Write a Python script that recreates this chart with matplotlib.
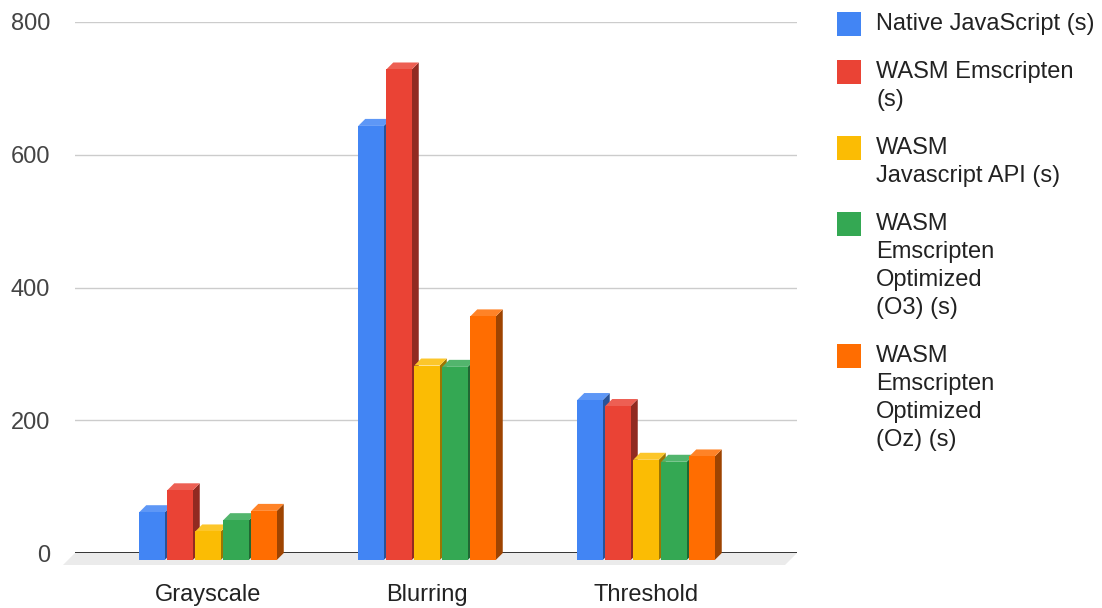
import matplotlib.pyplot as plt
import matplotlib.colors as mcolors
from matplotlib.patches import Polygon, Rectangle

# =========================
# DATA (seconds)
# =========================
categories = ["Grayscale", "Blurring", "Threshold"]
series_labels = [
    "Native JavaScript (s)",
    "WASM Emscripten\n(s)",
    "WASM\nJavascript API (s)",
    "WASM\nEmscripten\nOptimized\n(O3) (s)",
    "WASM\nEmscripten\nOptimized\n(Oz) (s)",
]
native_js = [72, 654, 241]
wasm_emscripten = [105, 739, 232]
wasm_js_api = [43, 293, 151]
wasm_o3 = [60, 291, 148]
wasm_oz = [74, 367, 156]
series_values = [native_js, wasm_emscripten, wasm_js_api, wasm_o3, wasm_oz]
series_colors = ["#4285f4", "#ea4335", "#fbbc04", "#34a853", "#ff6d01"]
y_ticks = [0, 200, 400, 600, 800]

# =========================
# LAYOUT (pixels)
# =========================
W, H = 1102, 608
PX_LEFT, PX_RIGHT = 75, 797     # back plane of the plot area
PX_TOP, PX_BASE = 22, 553       # y=800 and y=0 on the back plane
GROUP_PITCH = 219               # px between category centres
FIRST_CENTER = 215              # back-plane centre of first group
BAR_PITCH, BAR_W = 28, 25.5
DEPTH_X, DEPTH_Y = 7, 7         # 3d offset of the bar front faces
FLOOR_DEPTH = 12                # floor sticks out a bit further

FONT_SIZE = 17

plt.rcParams["font.family"] = ["Liberation Sans", "DejaVu Sans"]

fig = plt.figure(figsize=(W / 100, H / 100), dpi=100)
ax = fig.add_axes([PX_LEFT / W, 1 - PX_BASE / H,
                   (PX_RIGHT - PX_LEFT) / W, (PX_BASE - PX_TOP) / H])

x_lo = (PX_LEFT - FIRST_CENTER) / GROUP_PITCH
x_hi = (PX_RIGHT - FIRST_CENTER) / GROUP_PITCH
ax.set_xlim(x_lo, x_hi)
ax.set_ylim(0, 800)

px_per_unit_y = (PX_BASE - PX_TOP) / 800
dxu = DEPTH_X / GROUP_PITCH
dyu = DEPTH_Y / px_per_unit_y
fdx = FLOOR_DEPTH / GROUP_PITCH
fdy = FLOOR_DEPTH / px_per_unit_y
bw = BAR_W / GROUP_PITCH
bp = BAR_PITCH / GROUP_PITCH
group_span = 4 * bp + bw


def shade(color, f):
    r, g, b = mcolors.to_rgb(color)
    if f < 1:
        return (r * f, g * f, b * f)
    return (r + (1 - r) * (f - 1), g + (1 - g) * (f - 1), b + (1 - b) * (f - 1))


# floor under the bars
floor = Polygon([(x_lo, 0), (x_hi, 0), (x_hi - fdx, -fdy), (x_lo - fdx, -fdy)],
                closed=True, facecolor="#ebebeb", edgecolor="none",
                zorder=1, clip_on=False)
ax.add_patch(floor)

# gridlines and baseline
for t in y_ticks[1:]:
    ax.axhline(t, color="#cccccc", lw=1, zorder=0)
ax.axhline(0, color="#333333", lw=1.4, zorder=2)

# 3d bars, drawn left to right so each bar hides the previous side face
z = 3
for ci in range(len(categories)):
    for si, vals in enumerate(series_values):
        v = vals[ci]
        c = series_colors[si]
        x0 = ci - group_span / 2 + si * bp
        side = Polygon([(x0 - dxu + bw, -dyu), (x0 + bw, 0), (x0 + bw, v),
                        (x0 - dxu + bw, v - dyu)], closed=True,
                       facecolor=shade(c, 0.62), edgecolor="none",
                       zorder=z, clip_on=False)
        top = Polygon([(x0 - dxu, v - dyu), (x0 - dxu + bw, v - dyu),
                       (x0 + bw, v), (x0, v)], closed=True,
                      facecolor=shade(c, 1.15), edgecolor="none",
                      zorder=z, clip_on=False)
        front = Rectangle((x0 - dxu, -dyu), bw, v, facecolor=c,
                          edgecolor="none", zorder=z + 0.5, clip_on=False)
        ax.add_patch(side)
        ax.add_patch(top)
        ax.add_patch(front)
        z += 1

# axes text
ax.set_yticks(y_ticks)
ax.set_yticklabels([str(t) for t in y_ticks])
ax.set_xticks([i - dxu for i in range(len(categories))])
ax.set_xticklabels(categories)
ax.tick_params(axis="y", length=0, pad=18, labelsize=FONT_SIZE,
               labelcolor="#444444")
ax.tick_params(axis="x", length=0, pad=22, labelsize=FONT_SIZE,
               labelcolor="#222222")
for s in ax.spines.values():
    s.set_visible(False)

# legend on the right
LEG_SQ_X, LEG_SQ = 837, 24
LEG_TEXT_X = 876
LINE_H = 28
first_line_y = [24, 72, 148, 224, 356]
for label, color, y0 in zip(series_labels, series_colors, first_line_y):
    sq = Rectangle((LEG_SQ_X / W, 1 - (y0 + LEG_SQ / 2) / H),
                   LEG_SQ / W, LEG_SQ / H, transform=fig.transFigure,
                   facecolor=color, edgecolor="none")
    fig.patches.append(sq)
    for k, line in enumerate(label.split("\n")):
        fig.text(LEG_TEXT_X / W, 1 - (y0 + k * LINE_H) / H, line,
                 ha="left", va="center", fontsize=FONT_SIZE, color="#222222")

fig.savefig("out.png", dpi=100)
